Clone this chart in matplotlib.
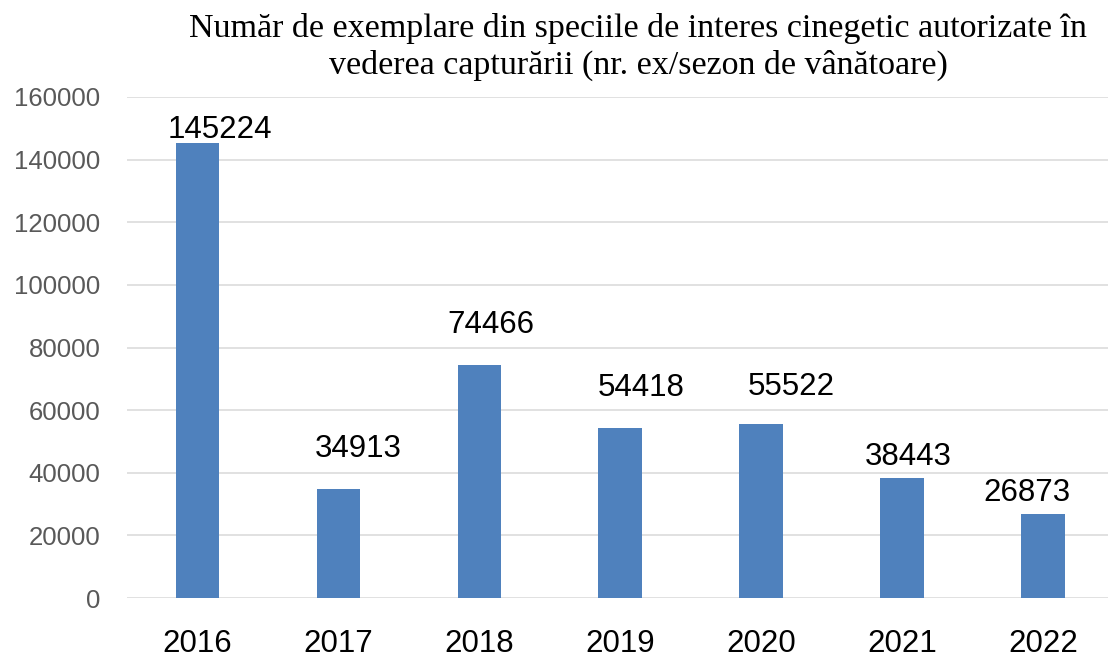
import matplotlib.pyplot as plt

years = ['2016', '2017', '2018', '2019', '2020', '2021', '2022']
counts = [145224, 34913, 74466, 54418, 55522, 38443, 26873]
y_ticks = [0, 20000, 40000, 60000, 80000, 100000, 120000, 140000, 160000]

# where the data labels sit relative to the bar top (pixels), as in the original
label_dx = [22, 20, 12, 21, 30, 6, -16]
label_dy = [5, 32, 32, 32, 29, 13, 13]

title = ('Număr de exemplare din speciile de interes cinegetic autorizate în\n'
         'vederea capturării (nr. ex/sezon de vânătoare)')

fig = plt.figure(figsize=(11.08, 6.65), dpi=100)
ax = fig.add_axes([127 / 1108, 1 - 598 / 665, 1 - 127 / 1108, (598 - 97) / 665])

x = range(len(years))
ax.bar(x, counts, width=0.31, color='#4F81BD', zorder=3)

for i, v in enumerate(counts):
    ax.annotate(str(v), (i, v), xytext=(label_dx[i], label_dy[i]),
                textcoords='offset pixels', ha='center', va='baseline',
                fontsize=22.5, family='Liberation Sans', color='black')

ax.set_xlim(-0.5, 6.46)
ax.set_ylim(0, 160000)
ax.set_yticks(y_ticks)
ax.set_yticklabels([str(t) for t in y_ticks], fontsize=18.5,
                   family='Liberation Sans', color='#595959')
ax.set_xticks(list(x))
ax.set_xticklabels(years, fontsize=22.5, family='Liberation Sans', color='black')
ax.tick_params(axis='y', length=0, pad=19)
ax.tick_params(axis='x', length=0, pad=22)

ax.grid(axis='y', color='#D9D9D9', linewidth=1.1, zorder=0)
for s in ax.spines.values():
    s.set_visible(False)

fig.text(638 / 1108, 1 - 47 / 665, title, ha='center', va='center',
         fontsize=24.5, family='Liberation Serif', linespacing=1.25)

fig.savefig('out.png', dpi=100)
